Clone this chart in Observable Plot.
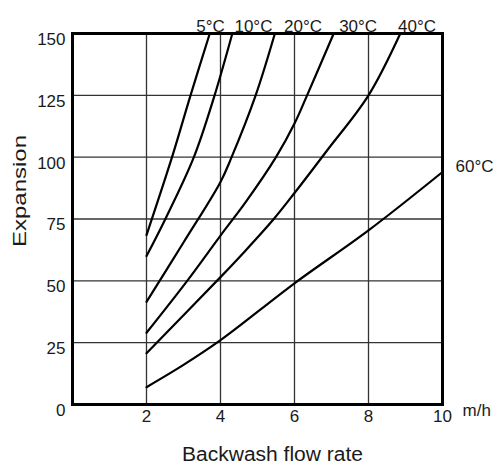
<!DOCTYPE html>
<html><head><meta charset="utf-8">
<script src="https://cdn.jsdelivr.net/npm/d3@7"></script>
<script src="https://cdn.jsdelivr.net/npm/@observablehq/plot@0.6"></script>
<style>html,body{margin:0;padding:0;background:#fff}</style>
</head><body><div id="chart"></div>
<script>
// Series: backwash flow rate (m/h) vs bed expansion (%)
const temps = ["5°C", "10°C", "20°C", "30°C", "40°C", "60°C"];
const flow5  = [2, 2.69, 3.19, 3.71];
const exp5   = [68.5, 100, 125, 150];
const flow10 = [2, 2.51, 3.28, 3.84, 4.32];
const exp10  = [60, 75, 100, 125, 150];
const flow20 = [2, 3, 4, 4.3, 4.95, 5.47];
const exp20  = [41.5, 65.5, 90, 100, 125, 150];
const flow30 = [2, 3.1, 4, 4.68, 5.5, 6, 6.34, 7.06];
const exp30  = [29, 50, 68.3, 81.8, 100, 113.6, 125, 150];
const flow40 = [2, 4, 4.68, 5.44, 6, 6.88, 8, 8.86];
const exp40  = [20.7, 51.5, 62.3, 75, 85.5, 102.7, 125, 150];
const flow60 = [2, 3, 4, 6, 8, 10];
const exp60  = [7, 16, 26, 49, 70.4, 94];

const xTicks = [2, 4, 6, 8, 10];
const yTicks = [0, 25, 50, 75, 100, 125, 150];
const topLabelX = [3.73, 4.89, 6.23, 7.72, 9.31]; // where the labels sit above the frame
const xUnit = "m/h";
const xTitle = "Backwash flow rate";
const yTitle = "Expansion";

const flows = [flow5, flow10, flow20, flow30, flow40, flow60];
const exps = [exp5, exp10, exp20, exp30, exp40, exp60];
const rows = temps.flatMap((t, i) => flows[i].map((f, j) => ({temp: t, flow: f, exp: exps[i][j]})));
const topLabels = temps.slice(0, 5).map((t, i) => ({temp: t, x: topLabelX[i]}));
const last60 = rows.filter(d => d.temp === "60°C").slice(-1);

const font = "'Liberation Sans', Arial, sans-serif";
const ink = "#1a1a1a";

const chart = Plot.plot({
  width: 497,
  height: 470,
  marginLeft: 72,
  marginRight: 55,
  marginTop: 33,
  marginBottom: 66,
  x: {domain: [0, 10]},
  y: {domain: [0, 150]},
  style: {fontFamily: font, fontSize: "17px", color: ink, background: "white", overflow: "visible"},
  marks: [
    Plot.gridX(xTicks.filter(d => d > 0 && d < 10), {stroke: "#333", strokeOpacity: 1, strokeWidth: 1.3}),
    Plot.gridY(yTicks.filter(d => d > 0 && d < 150), {stroke: "#333", strokeOpacity: 1, strokeWidth: 1.3}),
    Plot.line(rows, {x: "flow", y: "exp", z: "temp", curve: "catmull-rom", stroke: "black", strokeWidth: 2.2}),
    Plot.frame({stroke: "black", strokeWidth: 3}),
    Plot.axisX(xTicks, {tickSize: 0, tickPadding: 5, label: null, fontSize: 17}),
    Plot.axisY(yTicks, {tickSize: 0, tickPadding: 7, dy: 6, label: null, fontSize: 17}),
    Plot.text(topLabels, {x: "x", text: "temp", frameAnchor: "top", dy: -14, fontSize: 17, fill: ink}),
    Plot.text(last60, {x: "flow", y: "exp", text: "temp", dx: 13, dy: -5, textAnchor: "start", fontSize: 17, fill: ink}),
    Plot.text([xUnit], {text: d => d, frameAnchor: "bottom-right", dx: 20, dy: 11, textAnchor: "start", fontSize: 17, fill: ink}),
    Plot.text([xTitle], {text: d => d, frameAnchor: "bottom", dx: 15, dy: 56, fontSize: 20, fill: ink}),
    Plot.text([yTitle], {text: d => d, frameAnchor: "left", rotate: -90, dx: -52, dy: 28, fontSize: 18, fill: ink})
  ]
});

chart.querySelectorAll("text").forEach(t => {
  if (t.textContent === yTitle) { t.setAttribute("textLength", 112); t.setAttribute("lengthAdjust", "spacingAndGlyphs"); }
  if (t.textContent === xTitle) { t.setAttribute("textLength", 181); t.setAttribute("lengthAdjust", "spacingAndGlyphs"); }
});

document.getElementById("chart").appendChild(chart);
</script>
</body></html>
